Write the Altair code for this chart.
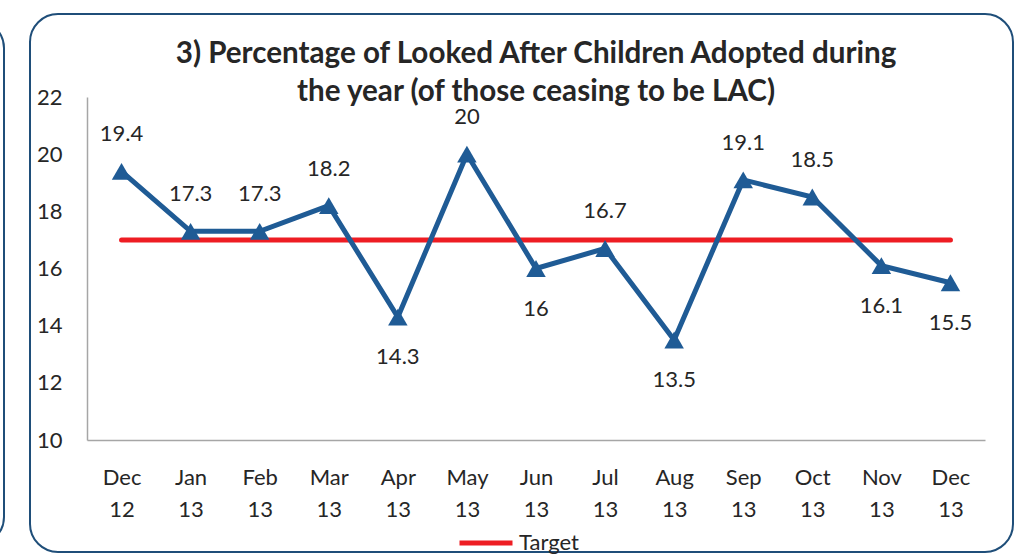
import altair as alt
import pandas as pd

months = ["Dec 12", "Jan 13", "Feb 13", "Mar 13", "Apr 13", "May 13", "Jun 13",
          "Jul 13", "Aug 13", "Sep 13", "Oct 13", "Nov 13", "Dec 13"]
values = [19.4, 17.3, 17.3, 18.2, 14.3, 20, 16, 16.7, 13.5, 19.1, 18.5, 16.1, 15.5]
label_pos = ["above", "above", "above", "above", "below", "above", "below",
             "above", "below", "above", "above", "below", "below"]
target = [17] * 13
y_ticks = [10, 12, 14, 16, 18, 20, 22]

title_lines = ["3) Percentage of Looked After Children Adopted during",
               "the year (of those ceasing to be LAC)"]

FONT = "Lato"
TXT = "#262626"
BLUE = "#1F5B95"
RED = "#EE1D23"

df = pd.DataFrame({"month": months, "value": values, "pos": label_pos,
                   "target": target, "series": ["Target"] * 13})

x_enc = alt.X("month:N", sort=months,
              scale=alt.Scale(paddingInner=0, paddingOuter=0),
              axis=alt.Axis(title=None, labelAngle=0, ticks=False,
                            labelExpr="split(datum.label, ' ')",
                            labelFont=FONT, labelFontSize=22, labelColor=TXT,
                            labelBaseline="top", labelLineHeight=32,
                            labelPadding=27, domainColor="#A6A6A6",
                            domainWidth=1.5, grid=False))
y_scale = alt.Scale(domain=[10, 22], nice=False, zero=False)
y_enc = alt.Y("value:Q", scale=y_scale,
              axis=alt.Axis(title=None, values=y_ticks, ticks=False, grid=False,
                            labelFont=FONT, labelFontSize=22, labelColor=TXT,
                            labelPadding=25, domainColor="#A6A6A6",
                            domainWidth=1.5))

base = alt.Chart(df)

target_line = base.mark_line(strokeWidth=5, strokeCap="round").encode(
    x=x_enc,
    y=alt.Y("target:Q", scale=y_scale),
    color=alt.Color("series:N",
                    scale=alt.Scale(domain=["Target"], range=[RED]),
                    legend=alt.Legend(title=None, orient="none",
                                      legendX=370, legendY=417,
                                      symbolType="stroke", symbolSize=2809,
                                      symbolStrokeWidth=5,
                                      labelFont=FONT, labelFontSize=22,
                                      labelColor=TXT, labelOffset=4)),
)

series_line = base.mark_line(color=BLUE, strokeWidth=5).encode(x=x_enc, y=y_enc)
points = base.mark_point(shape="triangle-up", filled=True, opacity=1,
                         color=BLUE, size=380).encode(x=x_enc, y=y_enc)

labels_above = base.transform_filter("datum.pos == 'above'").mark_text(
    font=FONT, fontSize=22, color=TXT, dy=-37).encode(
    x=x_enc, y=y_enc, text=alt.Text("value:Q"))
labels_below = base.transform_filter("datum.pos == 'below'").mark_text(
    font=FONT, fontSize=22, color=TXT, dy=40).encode(
    x=x_enc, y=y_enc, text=alt.Text("value:Q"))

frame_df = pd.DataFrame({"k": [0]})
frame = alt.Chart(frame_df).mark_rect(filled=False, stroke="#1F4E79",
                                      strokeWidth=2, cornerRadius=28).encode(
    x=alt.value(-57), x2=alt.value(926), y=alt.value(-83), y2=alt.value(455))
left_frame = alt.Chart(frame_df).mark_rect(filled=False, stroke="#1F4E79",
                                           strokeWidth=2, cornerRadius=28).encode(
    x=alt.value(-200), x2=alt.value(-83), y=alt.value(-77), y2=alt.value(448))

chart = alt.layer(
    frame, left_frame, target_line, series_line, points, labels_above, labels_below
).properties(
    width=898, height=343,
    padding={"left": 87, "top": 97, "right": 32, "bottom": 115},
    autosize=alt.AutoSizeParams(type="none"),
    title=alt.TitleParams(text=title_lines, font=FONT, fontSize=29.6,
                          fontWeight="bold", color=TXT, anchor="middle",
                          lineHeight=38, offset=0, dy=95),
).configure_view(stroke=None)

chart.save("out.html", embed_options={"renderer": "svg", "actions": False})
